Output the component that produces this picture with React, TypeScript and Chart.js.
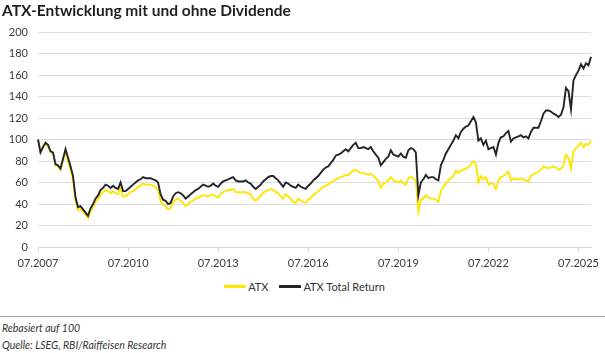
import React, { useEffect, useRef } from "react";
import { Chart, registerables } from "chart.js";

Chart.register(...registerables);

// Monthly observations, index 0 = 07.2007
const startYear = 2007;
const startMonth = 7;

const atxTotalReturn: number[] = [
  100, 88, 93, 97, 95, 89, 88, 77, 76, 73, 82, 91,
  83, 75, 66, 46, 37, 38, 35, 32, 29, 36, 40, 45,
  48, 53, 55, 58, 57, 55, 57, 55, 54, 60, 52, 52,
  54, 56, 58, 60, 62, 63, 65, 64, 64, 64, 63, 62,
  60, 49, 44, 43, 40, 41, 47, 50, 51, 50, 48, 45,
  47, 49, 51, 53, 54, 56, 58, 57, 56, 57, 59, 57,
  56, 59, 61, 62, 63, 64, 65, 62, 61, 61, 61, 62,
  60, 59, 56, 54, 56, 58, 61, 63, 65, 66, 66, 64,
  62, 59, 56, 60, 59, 57, 56, 55, 58, 56, 55, 54,
  57, 59, 62, 64, 66, 69, 72, 74, 75, 78, 81, 85,
  86, 87, 89, 91, 89, 92, 95, 97, 92, 92, 93, 92,
  91, 93, 89, 86, 83, 76, 79, 82, 84, 90, 86, 85,
  84, 87, 84, 83, 90, 92, 91, 88, 48, 60, 63, 67,
  64, 65, 65, 63, 62, 76, 81, 87, 91, 95, 99, 104,
  101, 107, 110, 112, 113, 117, 121, 116, 99, 101, 95, 99,
  91, 92, 93, 86, 97, 102, 103, 106, 108, 98, 101, 102,
  103, 104, 102, 103, 101, 107, 111, 111, 111, 117, 124, 127,
  127, 126, 124, 123, 121, 123, 130, 148, 145, 128, 155, 160,
  164, 170, 166, 171, 169, 177,
];

const atx: number[] = [
  100, 88, 93, 96, 94, 88, 87, 76, 75, 72, 80, 89,
  80, 72, 62, 43, 34, 35, 33, 30, 27, 33, 37, 42,
  44, 49, 51, 53, 52, 50, 52, 50, 49, 55, 47, 47,
  49, 51, 52, 54, 56, 57, 59, 58, 58, 58, 57, 56,
  53, 43, 39, 38, 35, 36, 42, 44, 45, 43, 41, 38,
  40, 42, 43, 45, 46, 47, 48, 48, 47, 48, 49, 47,
  46, 49, 51, 52, 53, 53, 54, 51, 51, 51, 51, 51,
  50, 49, 45, 43, 45, 48, 50, 52, 53, 54, 53, 51,
  50, 47, 45, 49, 47, 45, 42, 41, 45, 43, 42, 41,
  44, 46, 48, 50, 52, 54, 56, 57, 58, 60, 61, 63,
  64, 65, 66, 67, 67, 69, 71, 72, 70, 69, 69, 68,
  67, 68, 66, 64, 61, 55, 59, 60, 62, 65, 62, 61,
  60, 62, 59, 58, 64, 65, 64, 62, 33, 44, 45, 48,
  46, 45, 45, 44, 42, 52, 56, 59, 62, 64, 66, 71,
  69, 71, 72, 73, 74, 77, 80, 77, 60, 66, 63, 65,
  58, 59, 59, 54, 62, 65, 66, 68, 70, 62, 64, 63,
  63, 64, 63, 62, 61, 66, 68, 69, 70, 72, 75, 74,
  73, 74, 75, 74, 72, 73, 76, 86, 83, 73, 89, 92,
  94, 97, 93, 96, 95, 99,
];

const monthLabels: string[] = atx.map((_, i) => {
  const total = startMonth - 1 + i;
  const y = startYear + Math.floor(total / 12);
  const m = (total % 12) + 1;
  return String(m).padStart(2, "0") + "." + y;
});

const yTicks: number[] = [0, 20, 40, 60, 80, 100, 120, 140, 160, 180, 200];
const xTickStep = 36;

const seriesNames = ["ATX", "ATX Total Return"];
const seriesColors = ["#FFE600", "#23252B"];

const FONT = "Lato, 'Open Sans', sans-serif";

export default function App() {
  const canvasRef = useRef<HTMLCanvasElement | null>(null);

  useEffect(() => {
    if (!canvasRef.current) return;
    const chart = new Chart(canvasRef.current, {
      type: "line",
      data: {
        labels: monthLabels,
        datasets: [
          {
            label: seriesNames[0],
            data: atx,
            borderColor: seriesColors[0],
            backgroundColor: seriesColors[0],
            borderWidth: 1.9,
            pointRadius: 0,
            tension: 0,
            order: 1,
          },
          {
            label: seriesNames[1],
            data: atxTotalReturn,
            borderColor: seriesColors[1],
            backgroundColor: seriesColors[1],
            borderWidth: 1.9,
            pointRadius: 0,
            tension: 0,
            order: 0,
          },
        ],
      },
      options: {
        animation: false,
        responsive: true,
        maintainAspectRatio: false,
        layout: { padding: { top: 32, right: 14, left: 0, bottom: 0 } },
        plugins: {
          legend: { display: false },
          tooltip: { enabled: false },
          title: { display: false },
        },
        scales: {
          x: {
            type: "category",
            offset: false,
            afterBuildTicks: (scale: any) => {
              scale.ticks = scale.ticks.filter((t: any) => t.value % xTickStep === 0);
            },
            afterFit: (scale: any) => {
              scale.height = 31;
            },
            ticks: {
              autoSkip: false,
              maxRotation: 0,
              minRotation: 0,
              padding: 5,
              color: "#3a3a3a",
              font: { family: FONT, size: 11 },
              callback: (value: any) => monthLabels[value as number],
            },
            grid: {
              display: true,
              drawOnChartArea: false,
              drawTicks: true,
              tickLength: 5,
              color: "#d6d6de",
            },
            border: { display: true, color: "#d6d6de", width: 1 },
          },
          y: {
            min: 0,
            max: 200,
            afterBuildTicks: (scale: any) => {
              scale.ticks = yTicks.map((v) => ({ value: v }));
            },
            afterFit: (scale: any) => {
              scale.width = 38;
            },
            ticks: {
              stepSize: 20,
              padding: 10,
              color: "#3a3a3a",
              font: { family: FONT, size: 11 },
            },
            grid: {
              color: "#dcdce4",
              drawTicks: false,
              lineWidth: 1,
            },
            border: { display: false },
          },
        },
      },
    });
    return () => chart.destroy();
  }, []);

  return (
    <div
      style={{
        position: "absolute",
        left: 0,
        top: 0,
        width: 605,
        height: 353,
        background: "#ffffff",
        fontFamily: FONT,
        color: "#333333",
        overflow: "hidden",
      }}
    >
      <div style={{ position: "absolute", left: 0, top: 0, width: 605, height: 278 }}>
        <canvas ref={canvasRef} />
      </div>
      <div
        style={{
          position: "absolute",
          left: 2,
          top: 0,
          fontSize: 15.5,
          fontWeight: 700,
          color: "#1f1f1f",
          whiteSpace: "nowrap",
          lineHeight: "20px",
        }}
      >
        ATX-Entwicklung mit und ohne Dividende
      </div>
      <div
        style={{
          position: "absolute",
          left: 0,
          top: 279,
          width: 605,
          height: 14,
          display: "flex",
          justifyContent: "center",
          alignItems: "center",
          fontSize: 11,
          color: "#333333",
        }}
      >
        {seriesNames.map((name, i) => (
          <div key={name} style={{ display: "flex", alignItems: "center", marginRight: i === 0 ? 11 : 0, marginLeft: i === 0 ? 4 : 0 }}>
            <span style={{ display: "inline-block", width: 22, height: 3, background: seriesColors[i], marginRight: 2 }} />
            <span>{name}</span>
          </div>
        ))}
      </div>
      <div style={{ position: "absolute", left: 0, top: 316, width: 605, height: 1, background: "#a6a6a6" }} />
      <div
        style={{
          position: "absolute",
          left: 2,
          top: 321,
          fontSize: 10.5,
          fontStyle: "italic",
          color: "#333333",
          whiteSpace: "nowrap",
          lineHeight: "14px",
        }}
      >
        Rebasiert auf 100
      </div>
      <div
        style={{
          position: "absolute",
          left: 2,
          top: 338,
          fontSize: 10.5,
          fontStyle: "italic",
          color: "#333333",
          whiteSpace: "nowrap",
          lineHeight: "14px",
        }}
      >
        Quelle: LSEG, RBI/Raiffeisen Research
      </div>
    </div>
  );
}
